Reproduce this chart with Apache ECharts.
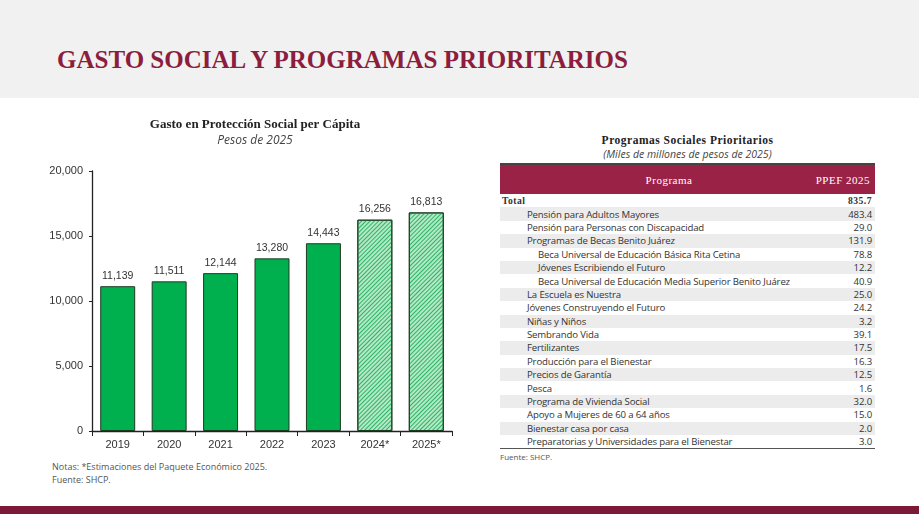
<!DOCTYPE html>
<html lang="es">
<head>
<meta charset="UTF-8">
<title>Gasto social</title>
<script src="https://cdn.jsdelivr.net/npm/echarts@6/dist/echarts.min.js"></script>
<style>
    body{margin:0;width:919px;height:514px;background:#fff;position:relative;overflow:hidden;font-family:"Open Sans",sans-serif;}
    .top{position:absolute;left:0;top:0;width:919px;height:98px;background:#f1f1f1;}
    .top h1{position:absolute;left:57px;top:46px;margin:0;font-family:"Liberation Serif",serif;font-weight:bold;font-size:25px;color:#8c1d3c;}
    .bottom{position:absolute;left:0;top:506px;width:919px;height:8px;background:#7a1a36;}
    #chart{position:absolute;left:40px;top:105px;width:440px;height:345px;}
    .note{position:absolute;left:52px;font-size:9px;color:#555;}
    .tbox{position:absolute;left:500px;top:134px;width:375px;}
    .tbox .t1{text-align:center;font-family:"Liberation Serif",serif;font-weight:bold;font-size:11.5px;letter-spacing:0.5px;color:#222;}
    .tbox .t2{text-align:center;font-style:italic;font-size:10.5px;color:#444;margin-top:1px;}
    table{width:375px;border-collapse:collapse;margin-top:2px;font-size:9.6px;color:#333;}
    th{background:#9b2247;color:#fff;font-family:"Liberation Serif",serif;font-weight:normal;font-size:11px;height:27px;letter-spacing:0.5px;border-top:2px solid #444;}
    td{height:13.4px;padding:0;line-height:13px;white-space:nowrap;letter-spacing:-0.15px;}
    tr.odd td{background:#ececec;}
    td.v{text-align:right;padding-right:3px;}
    tr.last td{border-bottom:1.5px solid #555;}
    .src{font-size:8px;color:#555;margin-top:2px;}
</style>
</head>
<body>
<div class="top"><h1>GASTO SOCIAL Y PROGRAMAS PRIORITARIOS</h1></div>
<div id="chart"></div>
<div class="note" style="top:460px;">Notas: *Estimaciones del Paquete Económico 2025.</div>
<div class="note" style="top:473px;">Fuente: SHCP.</div>
<div class="tbox">
    <div class="t1">Programas Sociales Prioritarios</div>
    <div class="t2">(Miles de millones de pesos de 2025)</div>
    <table id="tbl"></table>
    <div class="src">Fuente: SHCP.</div>
</div>
<div class="bottom"></div>
<script>
    var years = ['2019', '2020', '2021', '2022', '2023', '2024*', '2025*'];
    var gasto = [11139, 11511, 12144, 13280, 14443, 16256, 16813];
    var estimado = [false, false, false, false, false, true, true];

    var programas = ['Pensión para Adultos Mayores', 'Pensión para Personas con Discapacidad', 'Programas de Becas Benito Juárez',
        'Beca Universal de Educación Básica Rita Cetina', 'Jóvenes Escribiendo el Futuro', 'Beca Universal de Educación Media Superior Benito Juárez',
        'La Escuela es Nuestra', 'Jóvenes Construyendo el Futuro', 'Niñas y Niños', 'Sembrando Vida', 'Fertilizantes',
        'Producción para el Bienestar', 'Precios de Garantía', 'Pesca', 'Programa de Vivienda Social',
        'Apoyo a Mujeres de 60 a 64 años', 'Bienestar casa por casa', 'Preparatorias y Universidades para el Bienestar'];
    var montos = ['483.4', '29.0', '131.9', '78.8', '12.2', '40.9', '25.0', '24.2', '3.2', '39.1', '17.5', '16.3', '12.5', '1.6', '32.0', '15.0', '2.0', '3.0'];
    var subNivel = [0, 0, 0, 1, 1, 1, 0, 0, 0, 0, 0, 0, 0, 0, 0, 0, 0, 0];
    var total = '835.7';

    // tabla
    var html = '<tr><th style="padding-left:40px">Programa</th><th style="text-align:right;padding-right:5px;width:70px">PPEF 2025</th></tr>';
    html += '<tr><td style="font-family:Liberation Serif,serif;font-weight:bold;letter-spacing:0.5px;padding-left:2px">Total</td><td class="v" style="font-family:Liberation Serif,serif;font-weight:bold;letter-spacing:0.5px">' + total + '</td></tr>';
    for (var i = 0; i < programas.length; i++) {
        var cls = (i % 2 === 0 ? 'odd' : '') + (i === programas.length - 1 ? ' last' : '');
        html += '<tr class="' + cls + '"><td style="padding-left:' + (subNivel[i] ? 38 : 27) + 'px">' + programas[i] + '</td><td class="v">' + montos[i] + '</td></tr>';
    }
    document.getElementById('tbl').innerHTML = html;

    var myChart = echarts.init(document.getElementById('chart'));
    var barData = gasto.map(function (v, i) {
        if (!estimado[i]) return v;
        return {
            value: v,
            itemStyle: {
                color: '#b5e8c6',
                decal: {symbol: 'rect', color: '#2bb564', dashArrayX: [1, 0], dashArrayY: [1, 1.5], rotation: -Math.PI / 4}
            }
        };
    });
    var option = {
        animation: false,
        title: {
            text: 'Gasto en Protección Social per Cápita',
            subtext: 'Pesos de 2025',
            left: 210, top: 8, textAlign: 'center', itemGap: 4,
            textStyle: {fontFamily: 'Liberation Serif', fontWeight: 'bold', fontSize: 13, color: '#222'},
            subtextStyle: {fontFamily: 'Open Sans', fontStyle: 'italic', fontSize: 12, color: '#444'}
        },
        grid: {left: 52, right: 28, top: 66, bottom: 18},
        xAxis: {
            type: 'category',
            data: years,
            axisLine: {lineStyle: {color: '#222', width: 1.3}},
            axisTick: {show: true, lineStyle: {color: '#222'}, length: 5},
            axisLabel: {color: '#333', fontSize: 11, margin: 8}
        },
        yAxis: {
            type: 'value', min: 0, max: 20000, interval: 5000,
            axisLine: {show: true, lineStyle: {color: '#222', width: 1.3}},
            axisTick: {show: true, lineStyle: {color: '#222'}, length: 3},
            splitLine: {show: false},
            axisLabel: {color: '#333', fontSize: 11, margin: 9, formatter: function (v) { return v.toLocaleString('en-US'); }}
        },
        series: [{
            type: 'bar',
            data: barData,
            barWidth: '68%',
            itemStyle: {color: '#00b04f', borderColor: '#1d3b22', borderWidth: 1},
            label: {show: true, position: 'top', color: '#333', fontSize: 10.5, distance: 5,
                formatter: function (p) { return p.value.toLocaleString('en-US'); }}
        }]
    };
    myChart.setOption(option);
</script>
</body>
</html>
